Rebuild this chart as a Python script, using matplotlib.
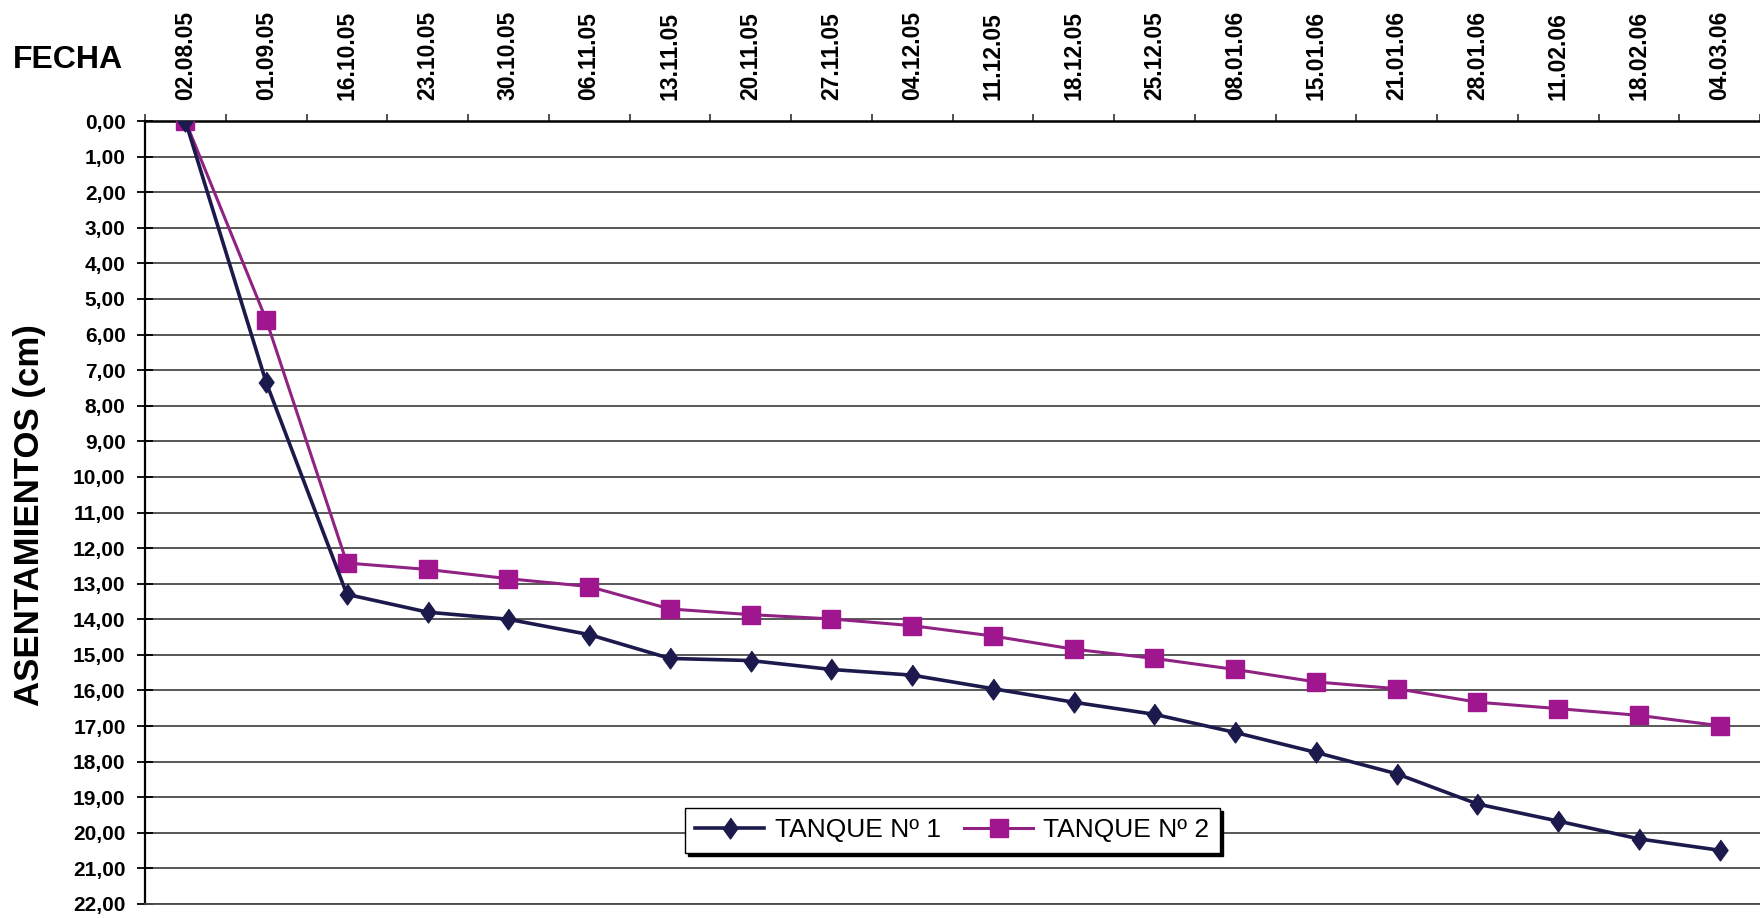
import numpy as np
import matplotlib.pyplot as plt
from matplotlib.ticker import FixedLocator, FuncFormatter

plt.rcParams['font.family'] = ['Liberation Sans', 'DejaVu Sans']

# Fechas de lectura
fechas = ['02.08.05', '01.09.05', '16.10.05', '23.10.05', '30.10.05', '06.11.05',
          '13.11.05', '20.11.05', '27.11.05', '04.12.05', '11.12.05', '18.12.05',
          '25.12.05', '08.01.06', '15.01.06', '21.01.06', '28.01.06', '11.02.06',
          '18.02.06', '04.03.06']

# Asentamientos (cm)
tanque1 = [0.00, 7.34, 13.30, 13.80, 14.00, 14.43, 15.10, 15.16, 15.41, 15.57,
           15.95, 16.33, 16.67, 17.18, 17.74, 18.34, 19.19, 19.67, 20.17, 20.49]
tanque2 = [0.00, 5.58, 12.42, 12.60, 12.86, 13.08, 13.71, 13.87, 13.99, 14.18,
           14.47, 14.84, 15.10, 15.41, 15.76, 15.95, 16.33, 16.51, 16.70, 16.99]

y_ticks = np.arange(0, 23)

fig = plt.figure(figsize=(17.6, 9.18), dpi=100)
ax = fig.add_axes([145 / 1760, 1 - 904 / 918, 1 - 145 / 1760, 783 / 918])

x = np.arange(len(fechas))

# diamante un poco mas alto que ancho, como en Excel
diamante = [(0, 1), (0.72, 0), (0, -1), (-0.72, 0)]

ax.plot(x, tanque1, color='#1c1a4c', lw=2.6, marker=diamante, ms=15,
        mfc='#1c1a4c', mec='#1c1a4c', label='TANQUE Nº 1', zorder=4)
ax.plot(x, tanque2, color='#8f2282', lw=2.2, marker='s', ms=12.5,
        mfc='#a0168e', mec='#a0168e', label='TANQUE Nº 2', zorder=3)

ax.set_xlim(-0.5, len(fechas) - 0.5)
ax.set_ylim(22, 0)

# eje de fechas arriba
ax.xaxis.tick_top()
ax.set_xticks(x)
ax.set_xticklabels(fechas, rotation=90, fontsize=16.5, fontweight='bold')
ax.xaxis.set_minor_locator(FixedLocator(np.arange(-0.5, len(fechas), 1)))
ax.tick_params(axis='x', which='major', length=0, pad=15)
ax.tick_params(axis='x', which='minor', top=True, bottom=False, direction='out',
               length=5, width=1.2, color='#333333')

ax.set_yticks(y_ticks)
ax.yaxis.set_major_formatter(FuncFormatter(lambda v, p: f'{v:.2f}'.replace('.', ',')))
ax.tick_params(axis='y', direction='inout', length=12, width=1.3, pad=8,
               labelsize=15)
for lab in ax.get_yticklabels():
    lab.set_fontweight('bold')

ax.grid(axis='y', color='#4a4a4a', lw=1.3)
ax.set_axisbelow(True)

ax.spines['right'].set_visible(False)
ax.spines['left'].set_linewidth(1.6)
ax.spines['top'].set_linewidth(1.8)
ax.spines['bottom'].set_color('#4a4a4a')
ax.spines['bottom'].set_linewidth(1.3)

fig.text(13 / 1760, 1 - 60 / 918, 'FECHA', fontsize=23, fontweight='bold',
         ha='left', va='center')
fig.text(30 / 1760, 1 - 515 / 918, 'ASENTAMIENTOS (cm)', fontsize=25,
         fontweight='bold', rotation=90, ha='center', va='center')

leg = ax.legend(loc='center', bbox_to_anchor=(0.5, 0.094), ncol=2, fontsize=19,
                frameon=True, fancybox=False, edgecolor='black', framealpha=1,
                shadow={'color': 'black', 'alpha': 1}, handlelength=2.6,
                columnspacing=0.9, handletextpad=0.4, borderpad=0.4)
leg.get_frame().set_linewidth(1.0)

plt.savefig('out.png', dpi=100)
